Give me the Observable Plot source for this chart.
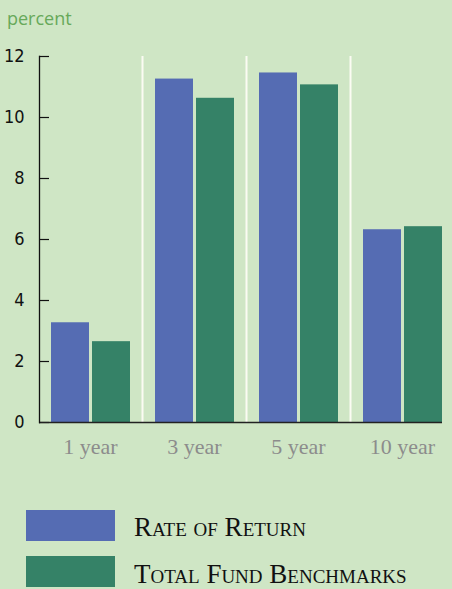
<!DOCTYPE html>
<html>
<head>
<meta charset="utf-8">
<script src="https://cdn.jsdelivr.net/npm/d3@7"></script>
<script src="https://cdn.jsdelivr.net/npm/@observablehq/plot@0.6"></script>
<style>
  html, body { margin: 0; padding: 0; background: #cfe6c5; }
  #wrap { position: relative; width: 452px; height: 589px; overflow: hidden; background: #cfe6c5; }
  #chart { position: absolute; left: 0; top: 0; }
  #unit { position: absolute; left: 7px; top: 6px; font-family: "Open Sans", sans-serif; font-size: 18px; color: #67a95a; }
  .leg { position: absolute; left: 26px; width: 89px; height: 31px; }
  .legtext { position: absolute; left: 134px; font-family: "Liberation Serif", serif; font-variant: small-caps; font-size: 27px; color: #111; line-height: 1; white-space: nowrap; }
</style>
</head>
<body>
<div id="wrap">
  <div id="chart"></div>
  <div id="unit">percent</div>
  <div id="legend"></div>
</div>
<script>
const categories = ["1 year", "3 year", "5 year", "10 year"];
const rateOfReturn = [3.27, 11.26, 11.46, 6.32];
const benchmarks = [2.65, 10.63, 11.07, 6.42];
const seriesNames = ["Rate of Return", "Total Fund Benchmarks"];
const seriesColors = ["#556cb3", "#358267"];
const yTicks = [0, 2, 4, 6, 8, 10, 12];

const W = 452, H = 460, mL = 39, mR = 10, mT = 56, mB = 38;
const bandStart = 38, bandEnd = 454;
const band = (bandEnd - bandStart) / categories.length;

const rows = categories.flatMap((c, i) => [
  {category: c, series: seriesNames[0], value: rateOfReturn[i]},
  {category: c, series: seriesNames[1], value: benchmarks[i]}
]);

const chart = Plot.plot({
  width: W, height: H,
  marginLeft: mL, marginRight: mR, marginTop: mT, marginBottom: mB,
  style: {background: "transparent", overflow: "visible"},
  x: {domain: categories, range: [bandStart, bandEnd], padding: 0},
  y: {domain: [0, 12]},
  color: {domain: seriesNames, range: seriesColors},
  marks: [
    Plot.ruleX(categories.slice(1), {x: d => d, dx: -band / 2, stroke: "#fbfbf3", strokeWidth: 2}),
    Plot.barY(rows.filter(d => d.series === seriesNames[0]), {x: "category", y: "value", fill: "series", insetLeft: 13, insetRight: 53}),
    Plot.barY(rows.filter(d => d.series === seriesNames[1]), {x: "category", y: "value", fill: "series", insetLeft: 54, insetRight: 12}),
    Plot.ruleY(yTicks, {y: d => d, insetRight: W - mL - mR - 10, stroke: "#111", strokeWidth: 1.2}),
    Plot.ruleY([0], {stroke: "#222", strokeWidth: 1.5}),
    Plot.frame({anchor: "left", stroke: "#111", strokeWidth: 1.3}),
    Plot.axisY(yTicks, {tickSize: 0, tickPadding: 15, fontSize: 18, fontFamily: "'Liberation Sans Narrow', 'DejaVu Sans Condensed', sans-serif", color: "#111", label: null}),
    Plot.axisX({tickSize: 0, tickPadding: 16, fontSize: 22, fontFamily: "'Liberation Serif', serif", color: "#8c8c8c", label: null})
  ]
});
document.getElementById("chart").appendChild(chart);

const legend = document.getElementById("legend");
const swTops = [510, 556];
const textTops = [514, 561];
seriesNames.forEach((name, i) => {
  const sw = document.createElement("div");
  sw.className = "leg";
  sw.style.top = swTops[i] + "px";
  sw.style.background = seriesColors[i];
  legend.appendChild(sw);
  const t = document.createElement("div");
  t.className = "legtext";
  t.style.top = textTops[i] + "px";
  t.textContent = name;
  legend.appendChild(t);
});
</script>
</body>
</html>
